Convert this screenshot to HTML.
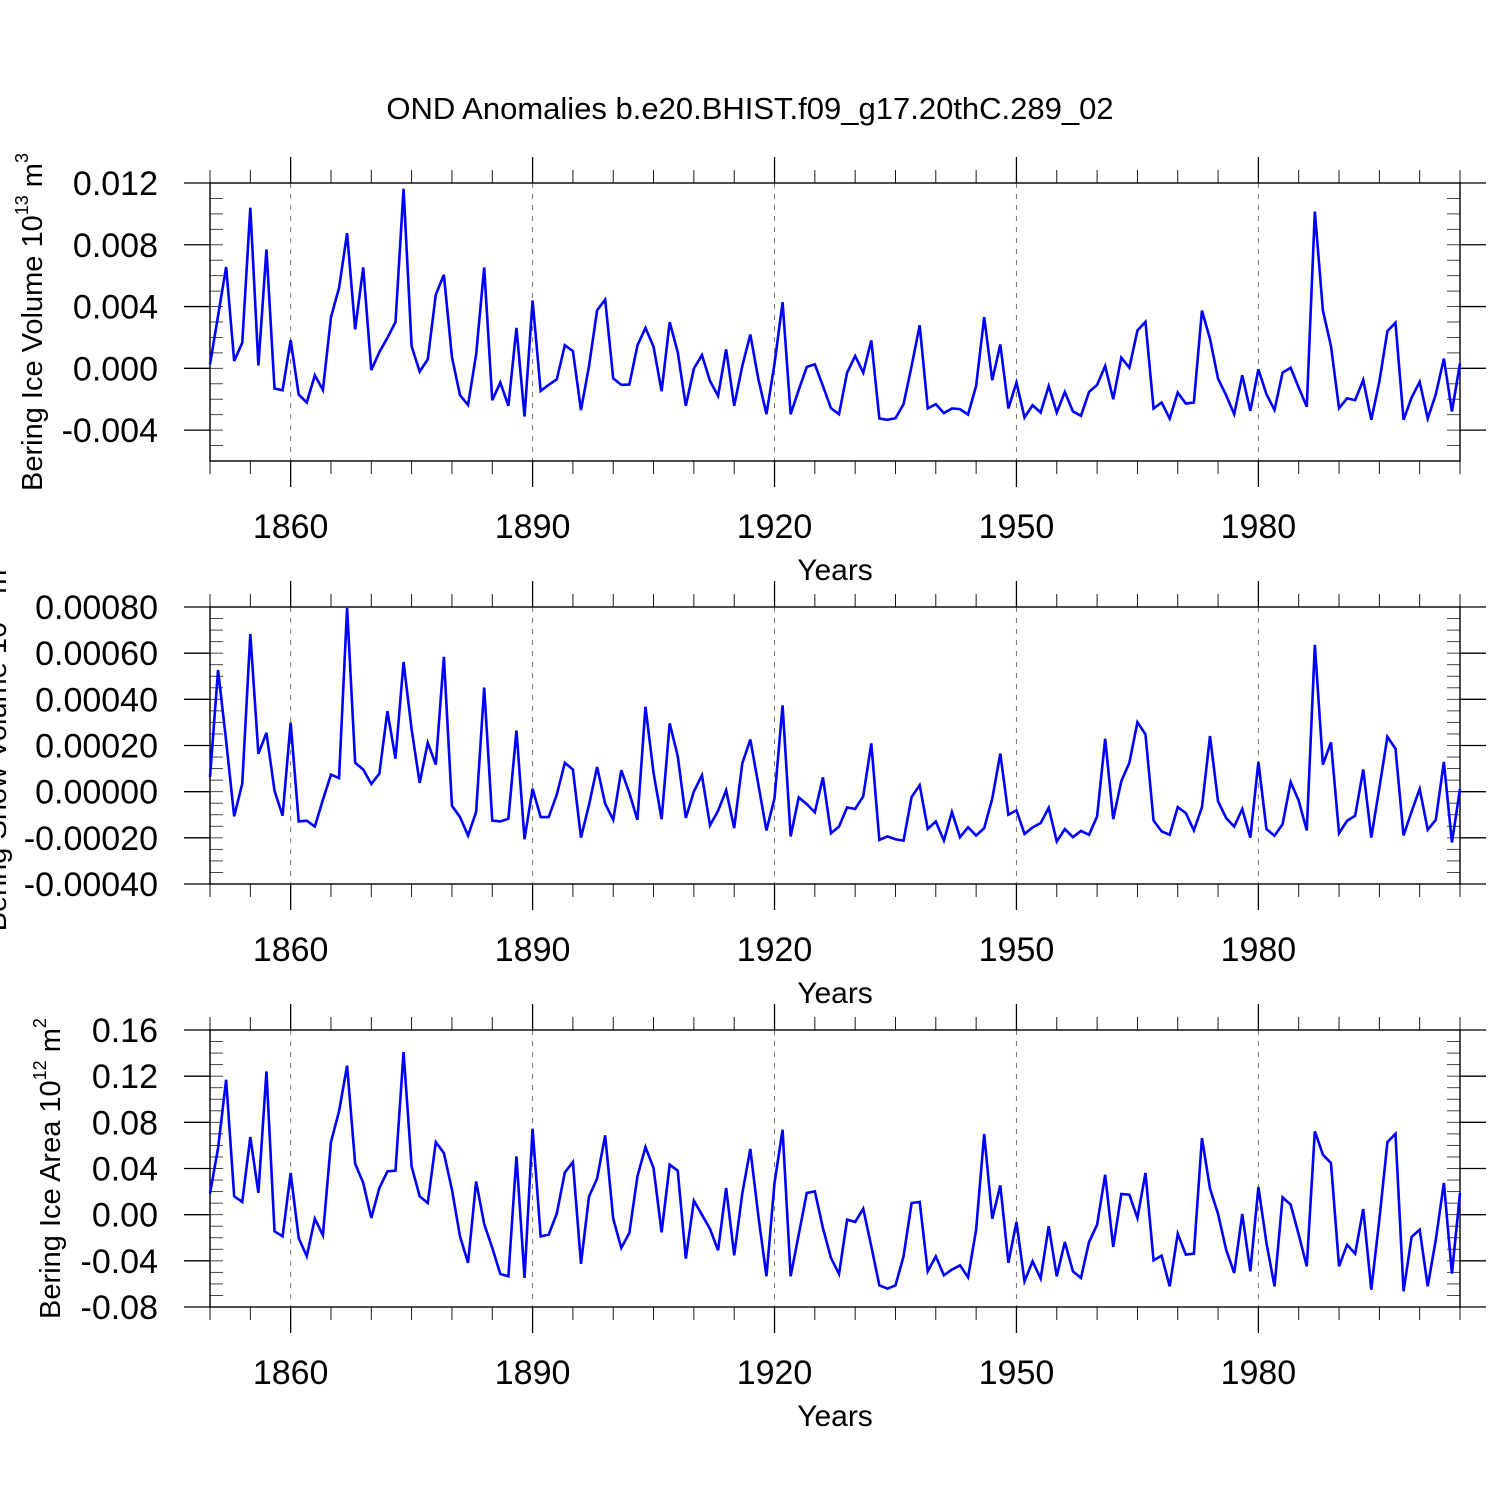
<!DOCTYPE html>
<html><head><meta charset="utf-8">
<style>
html,body{margin:0;padding:0;background:#fff;}
svg{display:block;font-family:"Liberation Sans",Arial,sans-serif;}
</style></head>
<body>
<svg id="chart" width="1500" height="1500" viewBox="0 0 1500 1500" xmlns="http://www.w3.org/2000/svg">
<rect width="1500" height="1500" fill="#fff"/>
<text x="750" y="119" font-size="31" text-anchor="middle">OND Anomalies b.e20.BHIST.f09_g17.20thC.289_02</text>
</svg>
<script>
// ---- data (one value per year, 1850..2005) ----
const startYear = 1850;
const endYear = 2005;
const xMajorTicks = [1860, 1890, 1920, 1950, 1980];
// Ice volume anomalies, in units of 1e-3 (10^13 m^3)
const iceVolumeScale = 1e-3;
const iceVolume = [0.26,3.4,6.56,0.47,1.66,10.4,0.19,7.7,-1.31,-1.42,1.83,-1.70,-2.21,-0.45,-1.40,3.31,5.2,8.75,2.52,6.53,
-0.11,1.05,1.98,2.99,11.63,1.44,-0.21,0.58,4.77,6.06,0.73,-1.74,-2.37,0.90,6.53,-2.06,-0.92,-2.43,2.62,-3.12,
4.39,-1.46,-1.07,-0.71,1.50,1.12,-2.71,0.15,3.76,4.45,-0.65,-1.07,-1.05,1.48,2.62,1.40,-1.48,2.99,1.05,-2.43,
-0.02,0.86,-0.82,-1.78,1.23,-2.43,0.15,2.19,-0.71,-2.97,0.3,4.28,-2.97,-1.40,0.09,0.26,-1.14,-2.58,-2.97,-0.28,
0.80,-0.28,1.81,-3.25,-3.33,-3.23,-2.32,0.15,2.79,-2.60,-2.32,-2.90,-2.60,-2.64,-2.99,-1.14,3.31,-0.77,1.55,-2.60,
-0.92,-3.18,-2.39,-2.86,-1.14,-2.86,-1.53,-2.79,-3.07,-1.53,-1.07,0.15,-2.0,0.69,0.04,2.45,3.01,-2.60,-2.21,-3.25,
-1.57,-2.28,-2.21,3.74,1.91,-0.67,-1.74,-2.97,-0.45,-2.75,-0.06,-1.68,-2.69,-0.28,0.04,-1.25,-2.49,10.15,3.74,1.44,
-2.58,-1.94,-2.06,-0.75,-3.33,-0.86,2.41,2.95,-3.33,-1.89,-0.88,-3.25,-1.68,0.63,-2.79,0.32];
const iceVolumeTicks = [-0.004, 0.000, 0.004, 0.008, 0.012];
// Snow volume anomalies, in units of 1e-4
const snowVolumeScale = 1e-4;
const snowVolume = [0.64,5.27,2.2,-1.07,0.35,6.83,1.64,2.55,0.04,-1.04,2.99,-1.29,-1.26,-1.51,-0.35,0.74,0.59,7.96,1.25,0.96,
0.33,0.78,3.49,1.43,5.62,2.70,0.38,2.12,1.17,5.84,-0.61,-1.10,-1.90,-0.88,4.51,-1.25,-1.29,-1.17,2.65,-2.06,
0.13,-1.10,-1.10,-0.13,1.25,0.96,-1.99,-0.57,1.07,-0.52,-1.22,0.93,-0.06,-1.22,3.68,0.81,-1.19,2.96,1.54,-1.14,
0.01,0.71,-1.46,-0.83,0.06,-1.58,1.22,2.26,0.30,-1.68,-0.28,3.74,-1.94,-0.25,-0.54,-0.90,0.62,-1.80,-1.51,-0.68,
-0.75,-0.20,2.09,-2.09,-1.94,-2.06,-2.12,-0.23,0.28,-1.61,-1.29,-2.12,-0.88,-1.97,-1.54,-1.90,-1.58,-0.30,1.65,-1.00,
-0.81,-1.83,-1.55,-1.36,-0.70,-2.16,-1.62,-1.97,-1.70,-1.87,-1.07,2.29,-1.19,0.45,1.25,3.01,2.48,-1.25,-1.72,-1.87,
-0.67,-0.93,-1.68,-0.68,2.41,-0.42,-1.14,-1.51,-0.75,-1.99,1.29,-1.62,-1.91,-1.41,0.42,-0.39,-1.68,6.36,1.17,2.14,
-1.80,-1.26,-1.04,0.96,-1.99,0.16,2.38,1.86,-1.90,-0.86,0.12,-1.65,-1.22,1.29,-2.20,0.12];
const snowVolumeTicks = [-0.0004, -0.0002, 0.0000, 0.0002, 0.0004, 0.0006, 0.0008];
// Ice area anomalies, in units of 1e-2 (10^12 m^2)
const iceAreaScale = 1e-2;
const iceArea = [1.82,5.77,11.69,1.59,1.10,6.73,1.88,12.41,-1.44,-1.88,3.61,-2.02,-3.61,-0.35,-1.79,6.29,8.95,12.90,4.42,2.75,
-0.29,2.31,3.75,3.81,14.09,4.18,1.59,1.01,6.29,5.34,2.17,-1.88,-4.18,2.88,-0.81,-2.88,-5.14,-5.34,5.05,-5.48,
7.45,-1.88,-1.73,0.09,3.66,4.56,-4.27,1.59,3.12,6.87,-0.35,-2.88,-1.59,3.32,5.86,4.04,-1.53,4.33,3.81,-3.81,
1.21,0.0,-1.24,-3.09,2.31,-3.52,1.82,5.69,-0.15,-5.34,2.75,7.36,-5.34,-1.73,1.88,2.02,-1.15,-3.75,-5.14,-0.43,
-0.63,0.52,-2.75,-6.12,-6.41,-6.12,-3.61,1.01,1.10,-4.91,-3.61,-5.25,-4.76,-4.39,-5.43,-1.30,6.99,-0.35,2.54,-4.18,
-0.63,-5.78,-4.04,-5.54,-1.0,-5.34,-2.37,-4.91,-5.48,-2.37,-0.87,3.46,-2.80,1.79,1.73,-0.29,3.61,-3.96,-3.55,-6.21,
-1.65,-3.46,-3.38,6.64,2.25,0.06,-3.03,-5.05,0.06,-4.91,2.40,-2.45,-6.21,1.50,0.87,-1.73,-4.47,7.22,5.20,4.47,
-4.47,-2.60,-3.38,0.49,-6.50,-0.43,6.29,7.01,-6.64,-1.93,-1.30,-6.21,-2.17,2.75,-5.11,1.88];
const iceAreaTicks = [-0.08, -0.04, 0.00, 0.04, 0.08, 0.12, 0.16];

const svg = document.getElementById('chart');
const NS = 'http://www.w3.org/2000/svg';
const L = 210, R = 1460;
function xs(yr){ return L + (yr - startYear) / (endYear - startYear) * (R - L); }
function mk(tag, attrs, parent){
  const e = document.createElementNS(NS, tag);
  for (const k in attrs) e.setAttribute(k, attrs[k]);
  (parent || svg).appendChild(e);
  return e;
}

function panel(cfg){
  const g = mk('g', {});
  
  
  const T = cfg.top, B = cfg.bottom;
  const ys = v => B - (v - cfg.min) / (cfg.max - cfg.min) * (B - T);
  xMajorTicks.forEach(yr => {
    const gl = mk('line', {x1: xs(yr), x2: xs(yr), y1: T, y2: B, stroke: '#777', 'stroke-width': 1, 'stroke-dasharray': '5,6'}, g);
    
    
  });
  for (let yr = startYear; yr <= endYear; yr += 5) {
    const major = xMajorTicks.indexOf(yr) >= 0;
    const len = major ? 26 : 13;
    mk('line', {x1: xs(yr), x2: xs(yr), y1: T - len, y2: T, stroke: '#000', 'stroke-width': major ? 1.3 : 0.9}, g);
    mk('line', {x1: xs(yr), x2: xs(yr), y1: B, y2: B + len, stroke: '#000', 'stroke-width': major ? 1.3 : 0.9}, g);
  }
  xMajorTicks.forEach(yr => {
    const t = mk('text', {x: xs(yr), y: B + 77, 'font-size': 34, 'text-anchor': 'middle'}, g);
    t.textContent = yr;
    
    
  });
  const xt = mk('text', {x: 835, y: B + 119, 'font-size': 30, 'text-anchor': 'middle'}, g);
  xt.textContent = 'Years';
  
  
  for (let v = cfg.min; v <= cfg.max + cfg.minor / 2; v += cfg.minor) {
    const y = ys(v);
    mk('line', {x1: L, x2: L + 13, y1: y, y2: y, stroke: '#333', 'stroke-width': 0.9}, g);
    mk('line', {x1: R - 13, x2: R, y1: y, y2: y, stroke: '#333', 'stroke-width': 0.9}, g);
  }
  cfg.ticks.forEach(v => {
    const y = ys(v);
    mk('line', {x1: L - 26, x2: L, y1: y, y2: y, stroke: '#000', 'stroke-width': 1.3}, g);
    mk('line', {x1: R, x2: R + 26, y1: y, y2: y, stroke: '#000', 'stroke-width': 1.3}, g);
    const t = mk('text', {x: 158, y: y + 12, 'font-size': 34, 'text-anchor': 'end'}, g);
    t.textContent = v.toFixed(cfg.dec);
    
    
  });
  const fr = mk('rect', {x: L, y: T, width: R - L, height: B - T, fill: 'none', stroke: '#000', 'stroke-width': 1.4}, g);
  
  
  const pts = cfg.data.map((d, i) => xs(startYear + i).toFixed(2) + ',' + ys(d * cfg.scale).toFixed(2)).join(' ');
  const pl = mk('polyline', {points: pts, fill: 'none', stroke: '#0000ff', 'stroke-width': 2.6, 'stroke-linejoin': 'miter'}, g);
  
  
  const cy = (T + B) / 2;
  const yt = mk('text', {x: cfg.labelX, y: cy, 'font-size': 29, 'text-anchor': 'middle', transform: 'rotate(-90 ' + cfg.labelX + ' ' + cy + ')'}, g);
  yt.innerHTML = cfg.label + ' 10<tspan font-size="18" dy="-14">' + cfg.exp + '</tspan><tspan dy="14"> m</tspan><tspan font-size="18" dy="-14">' + cfg.unitExp + '</tspan>';
  
  
}

panel({name: 'ice-volume-panel', top: 183, bottom: 461, min: -0.006, max: 0.012, minor: 0.001,
  ticks: iceVolumeTicks, dec: 3, data: iceVolume, scale: iceVolumeScale, label: 'Bering Ice Volume', exp: '13', unitExp: '3', labelX: 42});
panel({name: 'snow-volume-panel', top: 607, bottom: 884, min: -0.0004, max: 0.0008, minor: 0.00005,
  ticks: snowVolumeTicks, dec: 5, data: snowVolume, scale: snowVolumeScale, label: 'Bering Snow Volume', exp: '13', unitExp: '3', labelX: 6});
panel({name: 'ice-area-panel', top: 1030, bottom: 1307, min: -0.08, max: 0.16, minor: 0.01,
  ticks: iceAreaTicks, dec: 2, data: iceArea, scale: iceAreaScale, label: 'Bering Ice Area', exp: '12', unitExp: '2', labelX: 60});
</script>
</body></html>
